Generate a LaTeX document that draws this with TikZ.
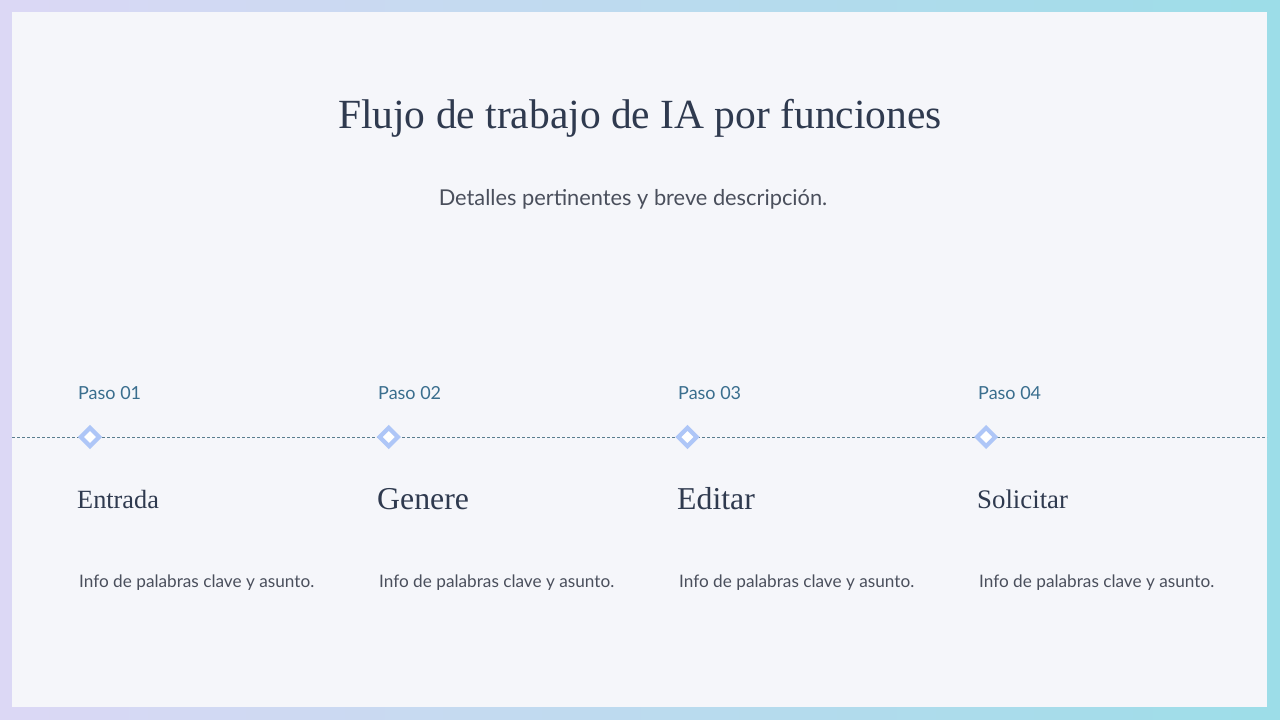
\documentclass[tikz,border=0pt]{standalone}
\usepackage{fontspec}
\setmainfont{Liberation Serif}
\setsansfont{Lato}
\usetikzlibrary{shapes.geometric}
\definecolor{panel}{HTML}{F5F6FA}
\definecolor{titlecol}{HTML}{2F3A4F}
\definecolor{textcol}{HTML}{4A4F5C}
\definecolor{pasocol}{HTML}{3A6E8E}
\definecolor{linecol}{HTML}{5A7D8E}
\definecolor{lavender}{HTML}{DCD8F5}
\definecolor{cyanish}{HTML}{9CDDE8}
\definecolor{marker}{HTML}{AEC6F7}
\begin{document}
\begin{tikzpicture}[x=1pt, y=-1pt]
    \tikzstyle{paso} = [anchor=west, inner sep=0pt, font=\sffamily\fontsize{18}{20}\selectfont, text=pasocol]
    \tikzstyle{marker} = [diamond, draw=marker, line width=4.2pt, fill=white, minimum size=20pt, inner sep=0pt]
    \tikzstyle{stepname} = [anchor=west, inner sep=0pt, text=titlecol]
    \tikzstyle{desc} = [anchor=west, inner sep=0pt, font=\sffamily\fontsize{17.2}{19}\selectfont, text=textcol]

    % background and panel
    \shade [left color=lavender, right color=cyanish] (0,0) rectangle (1280,720);
    \fill [panel] (12,12) rectangle (1267,707);

    \node [inner sep=0pt, font=\fontsize{41.5}{46}\selectfont, text=titlecol] (title) at (640,118) {Flujo de trabajo de IA por funciones};
    \node [inner sep=0pt, font=\sffamily\fontsize{21.8}{26}\selectfont, text=textcol] (sub) at (633,199) {Detalles pertinentes y breve descripción.};

    % timeline
    \coordinate (l) at (12,437);
    \coordinate (r) at (1267,437);
    \draw [linecol, line width=0.8pt, dash pattern=on 3pt off 2pt] (l) -- (r);

    \foreach \i/\name/\size in {1/Entrada/26.3, 2/Genere/31.8, 3/Editar/31.8, 4/Solicitar/26.8} {
        \pgfmathsetmacro{\xx}{78+300*(\i-1)}
        \node [paso] (p\i) at (\xx,393) {Paso 0\i};
        \node [marker] (m\i) at (90+298.7*\i-298.7,437) {};
        \node [stepname, font=\fontsize{\size}{34}\selectfont] (s\i) at (\xx-1,499) {\name};
        \node [desc] (d\i) at (\xx+1,582.5) {Info de palabras clave y asunto.};
    }
\end{tikzpicture}
\end{document}
